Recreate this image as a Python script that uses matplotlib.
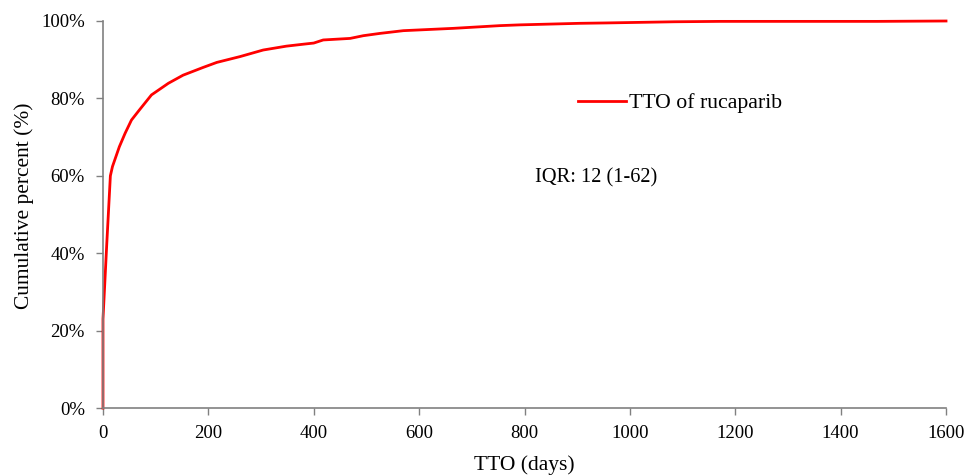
import numpy as np
import matplotlib.pyplot as plt
from matplotlib.ticker import FuncFormatter

plt.rcParams['font.family'] = ['Liberation Serif', 'DejaVu Serif']

# cumulative curve
days = [0, 0, 7, 14, 18, 31, 42, 54, 69, 92, 124, 152, 190, 216, 260, 304, 348,
        380, 400, 418, 469, 494, 526, 570, 665, 753, 791, 905, 956, 1085, 1171, 1470, 1600]
pct = [0, 23, 42, 60, 62.4, 67.5, 71, 74.4, 77, 80.9, 83.9, 86, 88, 89.3, 90.8, 92.5, 93.5,
       94.0, 94.3, 95.1, 95.5, 96.2, 96.8, 97.5, 98.1, 98.8, 99.0, 99.4, 99.5, 99.8, 99.9, 99.9, 100]

xticks = np.arange(0, 1601, 200)
yticks = np.arange(0, 101, 20)

fig = plt.figure(figsize=(9.68, 4.75), dpi=100)
ax = fig.add_axes([0.1064, 0.141, 0.8709, 0.8148])

ax.plot(days, pct, color='#ff0000', lw=2.0, label='TTO of rucaparib', clip_on=False)

ax.set_xlim(0, 1600)
ax.set_ylim(0, 100)
ax.set_xticks(xticks)
ax.set_yticks(yticks)
ax.yaxis.set_major_formatter(FuncFormatter(lambda v, p: '%d%%' % v))

for s in ['top', 'right']:
    ax.spines[s].set_visible(False)
for s in ['left', 'bottom']:
    ax.spines[s].set_color('#808080')
    ax.spines[s].set_linewidth(1.2)
ax.tick_params(colors='#808080', labelcolor='black', labelsize=13.5, length=5, width=1)
ax.tick_params(axis='x', pad=7)
ax.tick_params(axis='y', pad=8)

ax.set_xlabel('TTO (days)', fontsize=15.5, labelpad=10)
ax.set_ylabel('Cumulative percent (%)', fontsize=15.4, labelpad=5)
ax.yaxis.label.set_y(0.522)

ax.legend(loc='upper left', bbox_to_anchor=(0.54, 0.865), frameon=False, fontsize=15.7,
          handlelength=2.2, handletextpad=0.15)
ax.text(0.512, 0.594, 'IQR: 12 (1-62)', transform=ax.transAxes, fontsize=14.7,
        ha='left', va='center')

fig.savefig('out.png', dpi=100)
